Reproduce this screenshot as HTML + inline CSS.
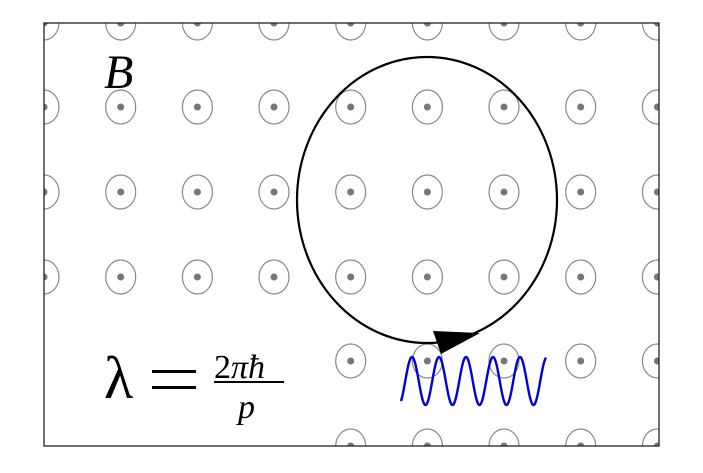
<!DOCTYPE html>
<html><head><style>html,body{margin:0;padding:0;background:#fff;}</style></head>
<body>
<svg width="703" height="468" viewBox="0 0 703 468" xmlns="http://www.w3.org/2000/svg">
<defs><clipPath id="c"><rect x="44" y="23" width="615" height="423"/></clipPath></defs>
<g clip-path="url(#c)" id="g"></g>
<ellipse cx="427" cy="200" rx="130" ry="143" fill="none" stroke="#000" stroke-width="2.2"/>
<polygon points="433,331 480,333 441,354" fill="#000"/>
<path id="w" fill="none" stroke="#0000dd" stroke-width="2.4"/>
<rect x="44" y="23" width="615" height="423" fill="none" stroke="#222" stroke-width="1.3"/>
<text x="104" y="88" font-family="Liberation Serif, serif" font-style="italic" font-size="48">B</text>
<text x="104" y="398" font-family="Liberation Serif, serif" font-size="60">λ</text>
<rect x="152" y="370" width="44" height="3" fill="#000"/>
<rect x="152" y="386" width="44" height="3" fill="#000"/>
<text x="214" y="378" font-family="Liberation Serif, serif" font-size="34">2<tspan font-style="italic">πħ</tspan></text>
<line x1="214" y1="382" x2="284" y2="382" stroke="#000" stroke-width="2"/>
<text x="238" y="418" font-family="Liberation Serif, serif" font-style="italic" font-size="34">p</text>
</svg>
<script>
var g=document.getElementById('g'),s='';
var xs=[44,120.7,197.4,274,350.7,427.4,504,580.7,657.4],ys=[23,107,192,277,361,446];
for(var j=0;j<ys.length;j++)for(var i=0;i<xs.length;i++){
 if(j>=4&&i<4)continue;
 s+='<ellipse cx="'+xs[i]+'" cy="'+ys[j]+'" rx="15" ry="17" fill="none" stroke="#888" stroke-width="1.2"/><circle cx="'+xs[i]+'" cy="'+ys[j]+'" r="3.5" fill="#777"/>';}
g.innerHTML=s;
var d='';for(var x=401;x<=546;x+=0.5){var y=381-24*Math.sin(2*Math.PI*(x-405.25)/27);d+=(x==401?'M':'L')+x+','+y.toFixed(2);}
document.getElementById('w').setAttribute('d',d);
</script>
</body></html>
